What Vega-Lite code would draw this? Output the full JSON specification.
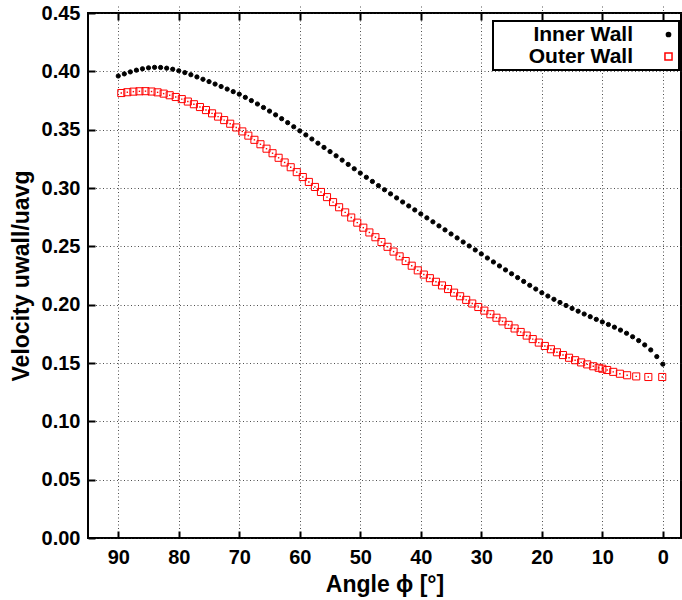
{
  "$schema": "https://vega.github.io/schema/vega-lite/v6.json",
  "width": 593,
  "height": 525,
  "autosize": "none",
  "padding": {"left": 88, "top": 13, "right": 1, "bottom": 62},
  "background": "white",
  "config": {
    "font": "Liberation Sans",
    "view": {"stroke": "black", "strokeWidth": 2},
    "axis": {
      "domain": false, "offset": -7,
      "tickColor": "black", "tickWidth": 2, "tickSize": 7,
      "labelFont": "Liberation Sans", "labelFontWeight": "bold", "labelFontSize": 20, "labelColor": "black",
      "titleFont": "Liberation Sans", "titleFontWeight": "bold", "titleFontSize": 23, "titleColor": "black",
      "gridColor": "#222", "gridDash": [1, 2.5], "gridWidth": 0.8, "gridOpacity": 1
    },
    "legend": {
      "orient": "none", "legendX": 405, "legendY": 8,
      "strokeColor": "black", "strokeWidth": 2, "fillColor": "white",
      "padding": 3, "labelFont": "Liberation Sans", "labelFontWeight": "bold", "labelFontSize": 21,
      "labelColor": "black", "labelAlign": "right", "labelOffset": -46, "rowPadding": 0,
      "labelLimit": 400,
      "titleOrient": "left", "titleFontSize": 21.6, "titleFontWeight": "bold", "titlePadding": 0,
      "titleLimit": 400, "titleOpacity": 0
    }
  },
  "data": {"values": [
    {"angle": 90, "v": 0.3960, "wall": "Inner Wall"},
    {"angle": 89, "v": 0.3978, "wall": "Inner Wall"},
    {"angle": 88, "v": 0.3995, "wall": "Inner Wall"},
    {"angle": 87, "v": 0.4010, "wall": "Inner Wall"},
    {"angle": 86, "v": 0.4022, "wall": "Inner Wall"},
    {"angle": 85, "v": 0.4030, "wall": "Inner Wall"},
    {"angle": 84, "v": 0.4034, "wall": "Inner Wall"},
    {"angle": 83, "v": 0.4033, "wall": "Inner Wall"},
    {"angle": 82, "v": 0.4027, "wall": "Inner Wall"},
    {"angle": 81, "v": 0.4018, "wall": "Inner Wall"},
    {"angle": 80, "v": 0.4005, "wall": "Inner Wall"},
    {"angle": 79, "v": 0.3989, "wall": "Inner Wall"},
    {"angle": 78, "v": 0.3971, "wall": "Inner Wall"},
    {"angle": 77, "v": 0.3952, "wall": "Inner Wall"},
    {"angle": 76, "v": 0.3932, "wall": "Inner Wall"},
    {"angle": 75, "v": 0.3912, "wall": "Inner Wall"},
    {"angle": 74, "v": 0.3891, "wall": "Inner Wall"},
    {"angle": 73, "v": 0.3870, "wall": "Inner Wall"},
    {"angle": 72, "v": 0.3848, "wall": "Inner Wall"},
    {"angle": 71, "v": 0.3826, "wall": "Inner Wall"},
    {"angle": 70, "v": 0.3804, "wall": "Inner Wall"},
    {"angle": 69, "v": 0.3777, "wall": "Inner Wall"},
    {"angle": 68, "v": 0.3749, "wall": "Inner Wall"},
    {"angle": 67, "v": 0.3720, "wall": "Inner Wall"},
    {"angle": 66, "v": 0.3690, "wall": "Inner Wall"},
    {"angle": 65, "v": 0.3659, "wall": "Inner Wall"},
    {"angle": 64, "v": 0.3627, "wall": "Inner Wall"},
    {"angle": 63, "v": 0.3594, "wall": "Inner Wall"},
    {"angle": 62, "v": 0.3560, "wall": "Inner Wall"},
    {"angle": 61, "v": 0.3525, "wall": "Inner Wall"},
    {"angle": 60, "v": 0.3490, "wall": "Inner Wall"},
    {"angle": 59, "v": 0.3455, "wall": "Inner Wall"},
    {"angle": 58, "v": 0.3420, "wall": "Inner Wall"},
    {"angle": 57, "v": 0.3384, "wall": "Inner Wall"},
    {"angle": 56, "v": 0.3348, "wall": "Inner Wall"},
    {"angle": 55, "v": 0.3312, "wall": "Inner Wall"},
    {"angle": 54, "v": 0.3276, "wall": "Inner Wall"},
    {"angle": 53, "v": 0.3239, "wall": "Inner Wall"},
    {"angle": 52, "v": 0.3202, "wall": "Inner Wall"},
    {"angle": 51, "v": 0.3165, "wall": "Inner Wall"},
    {"angle": 50, "v": 0.3128, "wall": "Inner Wall"},
    {"angle": 49, "v": 0.3092, "wall": "Inner Wall"},
    {"angle": 48, "v": 0.3056, "wall": "Inner Wall"},
    {"angle": 47, "v": 0.3020, "wall": "Inner Wall"},
    {"angle": 46, "v": 0.2985, "wall": "Inner Wall"},
    {"angle": 45, "v": 0.2950, "wall": "Inner Wall"},
    {"angle": 44, "v": 0.2915, "wall": "Inner Wall"},
    {"angle": 43, "v": 0.2880, "wall": "Inner Wall"},
    {"angle": 42, "v": 0.2846, "wall": "Inner Wall"},
    {"angle": 41, "v": 0.2812, "wall": "Inner Wall"},
    {"angle": 40, "v": 0.2778, "wall": "Inner Wall"},
    {"angle": 39, "v": 0.2744, "wall": "Inner Wall"},
    {"angle": 38, "v": 0.2710, "wall": "Inner Wall"},
    {"angle": 37, "v": 0.2675, "wall": "Inner Wall"},
    {"angle": 36, "v": 0.2641, "wall": "Inner Wall"},
    {"angle": 35, "v": 0.2606, "wall": "Inner Wall"},
    {"angle": 34, "v": 0.2572, "wall": "Inner Wall"},
    {"angle": 33, "v": 0.2537, "wall": "Inner Wall"},
    {"angle": 32, "v": 0.2503, "wall": "Inner Wall"},
    {"angle": 31, "v": 0.2469, "wall": "Inner Wall"},
    {"angle": 30, "v": 0.2435, "wall": "Inner Wall"},
    {"angle": 29, "v": 0.2400, "wall": "Inner Wall"},
    {"angle": 28, "v": 0.2366, "wall": "Inner Wall"},
    {"angle": 27, "v": 0.2332, "wall": "Inner Wall"},
    {"angle": 26, "v": 0.2298, "wall": "Inner Wall"},
    {"angle": 25, "v": 0.2265, "wall": "Inner Wall"},
    {"angle": 24, "v": 0.2232, "wall": "Inner Wall"},
    {"angle": 23, "v": 0.2199, "wall": "Inner Wall"},
    {"angle": 22, "v": 0.2166, "wall": "Inner Wall"},
    {"angle": 21, "v": 0.2134, "wall": "Inner Wall"},
    {"angle": 20, "v": 0.2102, "wall": "Inner Wall"},
    {"angle": 19, "v": 0.2074, "wall": "Inner Wall"},
    {"angle": 18, "v": 0.2046, "wall": "Inner Wall"},
    {"angle": 17, "v": 0.2019, "wall": "Inner Wall"},
    {"angle": 16, "v": 0.1993, "wall": "Inner Wall"},
    {"angle": 15, "v": 0.1968, "wall": "Inner Wall"},
    {"angle": 14, "v": 0.1944, "wall": "Inner Wall"},
    {"angle": 13, "v": 0.1920, "wall": "Inner Wall"},
    {"angle": 12, "v": 0.1897, "wall": "Inner Wall"},
    {"angle": 11, "v": 0.1874, "wall": "Inner Wall"},
    {"angle": 10, "v": 0.1852, "wall": "Inner Wall"},
    {"angle": 9, "v": 0.1830, "wall": "Inner Wall"},
    {"angle": 8, "v": 0.1807, "wall": "Inner Wall"},
    {"angle": 7, "v": 0.1782, "wall": "Inner Wall"},
    {"angle": 6, "v": 0.1755, "wall": "Inner Wall"},
    {"angle": 5, "v": 0.1725, "wall": "Inner Wall"},
    {"angle": 4, "v": 0.1692, "wall": "Inner Wall"},
    {"angle": 3, "v": 0.1655, "wall": "Inner Wall"},
    {"angle": 2, "v": 0.1612, "wall": "Inner Wall"},
    {"angle": 1, "v": 0.1555, "wall": "Inner Wall"},
    {"angle": 0, "v": 0.1490, "wall": "Inner Wall"},
    {"angle": 89.5, "v": 0.3814, "wall": "Outer Wall"},
    {"angle": 88.5, "v": 0.3821, "wall": "Outer Wall"},
    {"angle": 87.5, "v": 0.3826, "wall": "Outer Wall"},
    {"angle": 86.5, "v": 0.3829, "wall": "Outer Wall"},
    {"angle": 85.5, "v": 0.3830, "wall": "Outer Wall"},
    {"angle": 84.5, "v": 0.3827, "wall": "Outer Wall"},
    {"angle": 83.5, "v": 0.3820, "wall": "Outer Wall"},
    {"angle": 82.5, "v": 0.3809, "wall": "Outer Wall"},
    {"angle": 81.5, "v": 0.3795, "wall": "Outer Wall"},
    {"angle": 80.5, "v": 0.3780, "wall": "Outer Wall"},
    {"angle": 79.5, "v": 0.3762, "wall": "Outer Wall"},
    {"angle": 78.5, "v": 0.3741, "wall": "Outer Wall"},
    {"angle": 77.5, "v": 0.3718, "wall": "Outer Wall"},
    {"angle": 76.5, "v": 0.3694, "wall": "Outer Wall"},
    {"angle": 75.5, "v": 0.3668, "wall": "Outer Wall"},
    {"angle": 74.5, "v": 0.3640, "wall": "Outer Wall"},
    {"angle": 73.5, "v": 0.3612, "wall": "Outer Wall"},
    {"angle": 72.5, "v": 0.3582, "wall": "Outer Wall"},
    {"angle": 71.5, "v": 0.3551, "wall": "Outer Wall"},
    {"angle": 70.5, "v": 0.3519, "wall": "Outer Wall"},
    {"angle": 69.5, "v": 0.3485, "wall": "Outer Wall"},
    {"angle": 68.5, "v": 0.3449, "wall": "Outer Wall"},
    {"angle": 67.5, "v": 0.3413, "wall": "Outer Wall"},
    {"angle": 66.5, "v": 0.3375, "wall": "Outer Wall"},
    {"angle": 65.5, "v": 0.3337, "wall": "Outer Wall"},
    {"angle": 64.5, "v": 0.3298, "wall": "Outer Wall"},
    {"angle": 63.5, "v": 0.3259, "wall": "Outer Wall"},
    {"angle": 62.5, "v": 0.3219, "wall": "Outer Wall"},
    {"angle": 61.5, "v": 0.3178, "wall": "Outer Wall"},
    {"angle": 60.5, "v": 0.3136, "wall": "Outer Wall"},
    {"angle": 59.5, "v": 0.3094, "wall": "Outer Wall"},
    {"angle": 58.5, "v": 0.3052, "wall": "Outer Wall"},
    {"angle": 57.5, "v": 0.3009, "wall": "Outer Wall"},
    {"angle": 56.5, "v": 0.2966, "wall": "Outer Wall"},
    {"angle": 55.5, "v": 0.2922, "wall": "Outer Wall"},
    {"angle": 54.5, "v": 0.2879, "wall": "Outer Wall"},
    {"angle": 53.5, "v": 0.2835, "wall": "Outer Wall"},
    {"angle": 52.5, "v": 0.2791, "wall": "Outer Wall"},
    {"angle": 51.5, "v": 0.2747, "wall": "Outer Wall"},
    {"angle": 50.5, "v": 0.2703, "wall": "Outer Wall"},
    {"angle": 49.5, "v": 0.2660, "wall": "Outer Wall"},
    {"angle": 48.5, "v": 0.2619, "wall": "Outer Wall"},
    {"angle": 47.5, "v": 0.2578, "wall": "Outer Wall"},
    {"angle": 46.5, "v": 0.2537, "wall": "Outer Wall"},
    {"angle": 45.5, "v": 0.2496, "wall": "Outer Wall"},
    {"angle": 44.5, "v": 0.2455, "wall": "Outer Wall"},
    {"angle": 43.5, "v": 0.2414, "wall": "Outer Wall"},
    {"angle": 42.5, "v": 0.2374, "wall": "Outer Wall"},
    {"angle": 41.5, "v": 0.2334, "wall": "Outer Wall"},
    {"angle": 40.5, "v": 0.2294, "wall": "Outer Wall"},
    {"angle": 39.5, "v": 0.2258, "wall": "Outer Wall"},
    {"angle": 38.5, "v": 0.2227, "wall": "Outer Wall"},
    {"angle": 37.5, "v": 0.2196, "wall": "Outer Wall"},
    {"angle": 36.5, "v": 0.2165, "wall": "Outer Wall"},
    {"angle": 35.5, "v": 0.2134, "wall": "Outer Wall"},
    {"angle": 34.5, "v": 0.2103, "wall": "Outer Wall"},
    {"angle": 33.5, "v": 0.2072, "wall": "Outer Wall"},
    {"angle": 32.5, "v": 0.2041, "wall": "Outer Wall"},
    {"angle": 31.5, "v": 0.2010, "wall": "Outer Wall"},
    {"angle": 30.5, "v": 0.1980, "wall": "Outer Wall"},
    {"angle": 29.5, "v": 0.1949, "wall": "Outer Wall"},
    {"angle": 28.5, "v": 0.1918, "wall": "Outer Wall"},
    {"angle": 27.5, "v": 0.1888, "wall": "Outer Wall"},
    {"angle": 26.5, "v": 0.1857, "wall": "Outer Wall"},
    {"angle": 25.5, "v": 0.1827, "wall": "Outer Wall"},
    {"angle": 24.5, "v": 0.1796, "wall": "Outer Wall"},
    {"angle": 23.5, "v": 0.1766, "wall": "Outer Wall"},
    {"angle": 22.5, "v": 0.1735, "wall": "Outer Wall"},
    {"angle": 21.5, "v": 0.1705, "wall": "Outer Wall"},
    {"angle": 20.5, "v": 0.1675, "wall": "Outer Wall"},
    {"angle": 19.5, "v": 0.1646, "wall": "Outer Wall"},
    {"angle": 18.5, "v": 0.1618, "wall": "Outer Wall"},
    {"angle": 17.5, "v": 0.1592, "wall": "Outer Wall"},
    {"angle": 16.5, "v": 0.1568, "wall": "Outer Wall"},
    {"angle": 15.5, "v": 0.1545, "wall": "Outer Wall"},
    {"angle": 14.5, "v": 0.1524, "wall": "Outer Wall"},
    {"angle": 13.5, "v": 0.1505, "wall": "Outer Wall"},
    {"angle": 12.5, "v": 0.1488, "wall": "Outer Wall"},
    {"angle": 11.5, "v": 0.1472, "wall": "Outer Wall"},
    {"angle": 10.6, "v": 0.1459, "wall": "Outer Wall"},
    {"angle": 10.0, "v": 0.1451, "wall": "Outer Wall"},
    {"angle": 9.2, "v": 0.1440, "wall": "Outer Wall"},
    {"angle": 8.2, "v": 0.1424, "wall": "Outer Wall"},
    {"angle": 7.1, "v": 0.1408, "wall": "Outer Wall"},
    {"angle": 5.9, "v": 0.1395, "wall": "Outer Wall"},
    {"angle": 4.4, "v": 0.1385, "wall": "Outer Wall"},
    {"angle": 2.4, "v": 0.1380, "wall": "Outer Wall"},
    {"angle": 0.1, "v": 0.1380, "wall": "Outer Wall"}
  ]},
  "layer": [
    {
      "mark": {"type": "point", "opacity": 1, "strokeWidth": 1},
      "encoding": {
        "x": {
          "field": "angle", "type": "quantitative",
          "scale": {"domain": [-3, 95], "reverse": true, "nice": false, "zero": false},
          "axis": {
            "values": [90, 80, 70, 60, 50, 40, 30, 20, 10, 0], "format": "d",
            "title": "Angle ϕ [°]", "grid": true, "labelPadding": 9, "titlePadding": 6
          }
        },
        "y": {
          "field": "v", "type": "quantitative",
          "scale": {"domain": [0, 0.45], "nice": false},
          "axis": {
            "values": [0, 0.05, 0.1, 0.15, 0.2, 0.25, 0.3, 0.35, 0.4, 0.45], "format": ".2f",
            "title": "Velocity  uwall/uavg", "grid": true, "labelPadding": 8, "titlePadding": 8
          }
        },
        "shape": {
          "field": "wall", "type": "nominal",
          "scale": {"domain": ["Inner Wall", "Outer Wall"], "range": ["circle", "square"]},
          "legend": {"title": "MMMMMMMMM"}
        },
        "fill": {
          "field": "wall", "type": "nominal",
          "scale": {"domain": ["Inner Wall", "Outer Wall"], "range": ["black", "transparent"]},
          "legend": {"title": "MMMMMMMMM"}
        },
        "stroke": {
          "field": "wall", "type": "nominal",
          "scale": {"domain": ["Inner Wall", "Outer Wall"], "range": ["black", "red"]},
          "legend": {"title": "MMMMMMMMM"}
        },
        "size": {
          "field": "wall", "type": "nominal",
          "scale": {"domain": ["Inner Wall", "Outer Wall"], "range": [18, 50]},
          "legend": {"title": "MMMMMMMMM"}
        }
      }
    },
    {
      "transform": [{"filter": "datum.wall === 'Outer Wall'"}],
      "mark": {"type": "square", "filled": true, "color": "red", "size": 2, "opacity": 1},
      "encoding": {
        "x": {"field": "angle", "type": "quantitative", "axis": null},
        "y": {"field": "v", "type": "quantitative"}
      }
    },
    {
      "mark": {"type": "point", "opacity": 0},
      "encoding": {
        "x": {
          "field": "angle", "type": "quantitative",
          "axis": {
            "orient": "top", "values": [90, 80, 70, 60, 50, 40, 30, 20, 10, 0],
            "labels": false, "title": null, "grid": false
          }
        }
      }
    }
  ],
  "resolve": {"axis": {"x": "independent"}}
}
